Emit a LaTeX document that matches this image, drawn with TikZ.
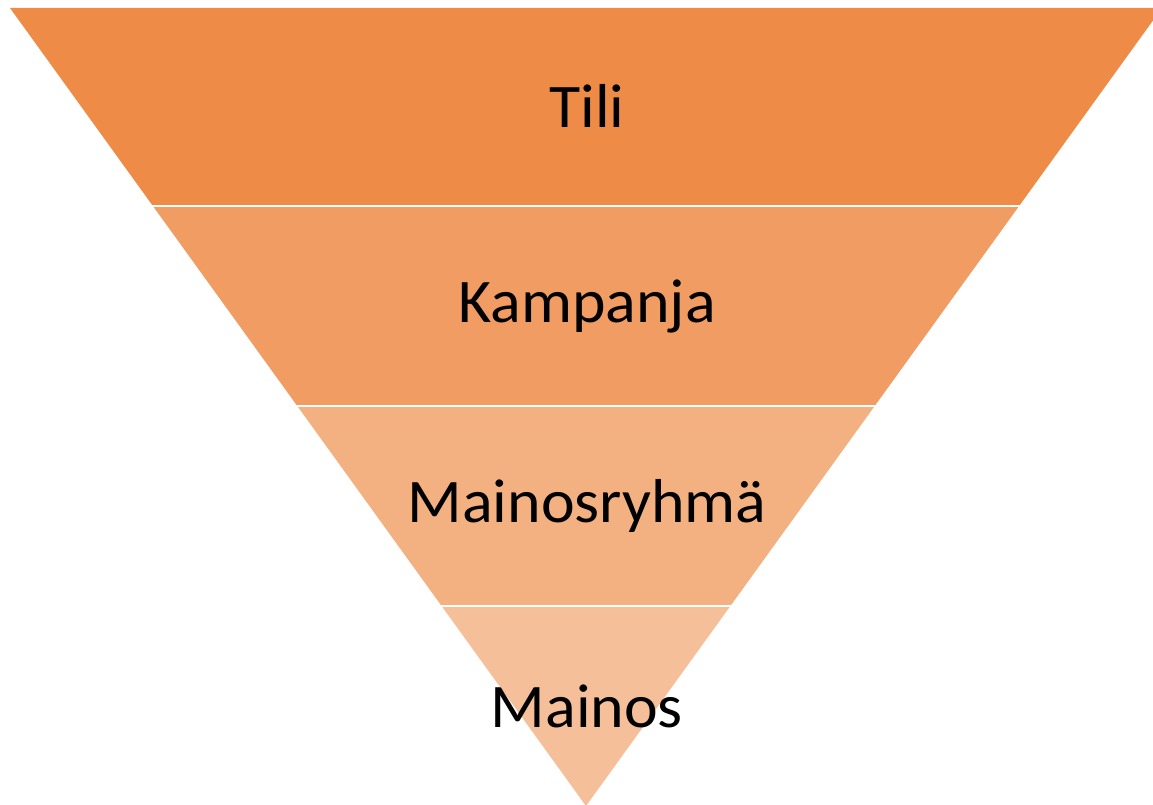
\documentclass[tikz,border=0pt]{standalone}
\usepackage{fontspec}
\setmainfont{Carlito}
\definecolor{bandA}{RGB}{237,139,71}
\definecolor{bandB}{RGB}{240,156,99}
\definecolor{bandC}{RGB}{243,177,129}
\definecolor{bandD}{RGB}{245,191,153}
\tikzset{
  lbl/.style={font=\fontsize{62}{68}\selectfont, text=black, inner sep=0pt, anchor=center, xscale=1.03}
}
\begin{document}
\begin{tikzpicture}[x=1pt,y=-1pt]
\useasboundingbox (0,0) rectangle (1153,805);
\begin{scope}
\clip (0,0) rectangle (1153,805);
\fill[bandA] (10,8) -- (1162,8) -- (1019.1,206) -- (152.9,206) -- cycle;
\fill[bandB] (152.9,206) -- (1019.1,206) -- (874.7,406) -- (297.3,406) -- cycle;
\fill[bandC] (297.3,406) -- (874.7,406) -- (730.4,606) -- (441.6,606) -- cycle;
\fill[bandD] (441.6,606) -- (730.4,606) -- (586,806) -- cycle;
\draw[white, line width=2.2pt] (140,206) -- (1030,206);
\draw[white, line width=2.2pt] (280,406) -- (890,406);
\draw[white, line width=2.2pt] (430,606) -- (745,606);
\end{scope}
\node[lbl] (tili) at (587,106) {Tili};
\node[lbl] (kampanja) at (587,306) {Kampanja};
\node[lbl] (ryhma) at (587,506) {Mainosryhmä};
\node[lbl] (mainos) at (587,706) {Mainos};
\end{tikzpicture}
\end{document}
